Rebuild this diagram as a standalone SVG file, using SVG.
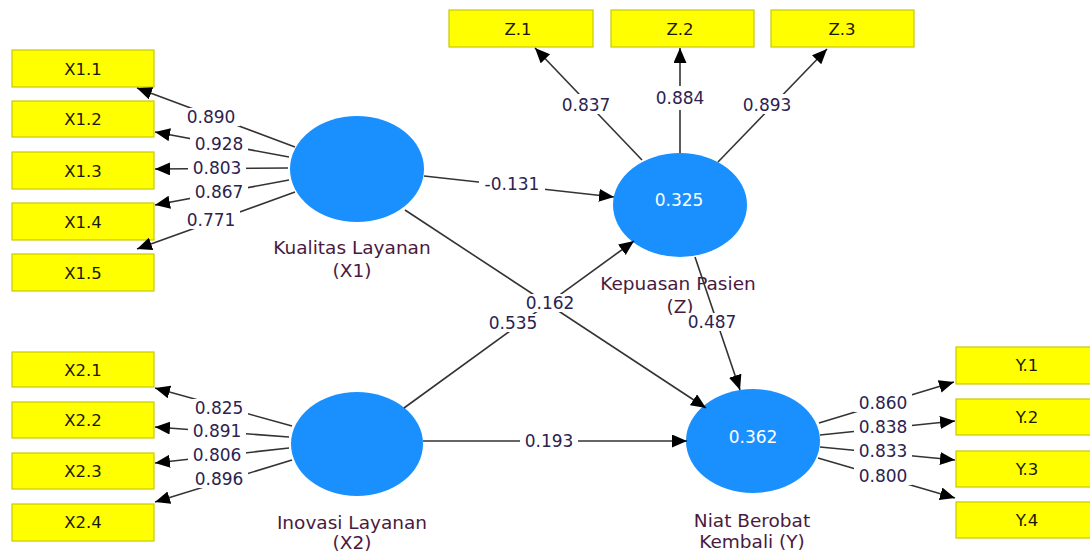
<svg xmlns="http://www.w3.org/2000/svg" width="1090" height="553" viewBox="0 0 1090 553">
<style>
.box{fill:#ffff00;stroke:#c9c900;stroke-width:1.2}
.bt{font-family:"DejaVu Sans",sans-serif;font-size:16.5px;fill:#1a1a00;text-anchor:middle}
.lv{fill:#1a90ff}
.lvt{font-family:"DejaVu Sans",sans-serif;font-size:17px;fill:#ffffff;text-anchor:middle}
.nm{font-family:"DejaVu Sans",sans-serif;font-size:18.5px;fill:#4a1a3e;text-anchor:middle}
.ln{stroke:#333333;stroke-width:1.6;fill:none;marker-end:url(#ah)}
.lb{fill:#ffffff}
.lt{font-family:"DejaVu Sans",sans-serif;font-size:17px;fill:#2b2350;text-anchor:middle}
</style>
<defs>
<marker id="ah" markerUnits="userSpaceOnUse" markerWidth="16" markerHeight="14" refX="15" refY="6.5" orient="auto">
<path d="M0,0 L15,6.5 L0,13 Z" fill="#000000"/>
</marker>
</defs>
<rect width="1090" height="553" fill="#ffffff"/>

<!-- indicator boxes -->
<g id="X1.1"><rect class="box" x="12" y="50" width="142" height="37"/><text class="bt" x="83" y="75">X1.1</text></g>
<g id="X1.2"><rect class="box" x="12" y="101" width="142" height="36"/><text class="bt" x="83" y="125">X1.2</text></g>
<g id="X1.3"><rect class="box" x="12" y="152" width="142" height="37"/><text class="bt" x="83" y="177">X1.3</text></g>
<g id="X1.4"><rect class="box" x="12" y="203" width="142" height="37"/><text class="bt" x="83" y="228">X1.4</text></g>
<g id="X1.5"><rect class="box" x="12" y="254" width="142" height="37"/><text class="bt" x="83" y="279">X1.5</text></g>

<g id="X2.1"><rect class="box" x="12" y="352" width="142" height="35"/><text class="bt" x="83" y="376">X2.1</text></g>
<g id="X2.2"><rect class="box" x="12" y="402" width="142" height="36"/><text class="bt" x="83" y="426">X2.2</text></g>
<g id="X2.3"><rect class="box" x="12" y="453" width="142" height="36"/><text class="bt" x="83" y="477">X2.3</text></g>
<g id="X2.4"><rect class="box" x="12" y="504" width="142" height="37"/><text class="bt" x="83" y="528">X2.4</text></g>

<g id="Z.1"><rect class="box" x="449" y="10" width="144" height="37"/><text class="bt" x="518" y="35">Z.1</text></g>
<g id="Z.2"><rect class="box" x="611" y="10" width="143" height="37"/><text class="bt" x="680" y="35">Z.2</text></g>
<g id="Z.3"><rect class="box" x="771" y="10" width="143" height="37"/><text class="bt" x="842" y="35">Z.3</text></g>

<g id="Y.1"><rect class="box" x="956" y="347" width="142" height="37"/><text class="bt" x="1027" y="371">Y.1</text></g>
<g id="Y.2"><rect class="box" x="956" y="399" width="142" height="36"/><text class="bt" x="1027" y="423">Y.2</text></g>
<g id="Y.3"><rect class="box" x="956" y="451" width="142" height="36"/><text class="bt" x="1027" y="475">Y.3</text></g>
<g id="Y.4"><rect class="box" x="956" y="502" width="142" height="36"/><text class="bt" x="1027" y="526">Y.4</text></g>

<!-- latent variables -->
<g id="X1"><ellipse class="lv" cx="357" cy="169" rx="67" ry="53"/><text class="nm" x="352" y="254">Kualitas Layanan</text><text class="nm" x="352" y="277">(X1)</text></g>
<g id="X2"><ellipse class="lv" cx="357" cy="444" rx="66" ry="52"/><text class="nm" x="352" y="529">Inovasi Layanan</text><text class="nm" x="352" y="549">(X2)</text></g>
<g id="Z"><ellipse class="lv" cx="680" cy="205" rx="67" ry="52"/><text class="lvt" x="679" y="206">0.325</text><text class="nm" x="678" y="290">Kepuasan Pasien</text><text class="nm" x="680" y="313">(Z)</text></g>
<g id="Y"><ellipse class="lv" cx="753" cy="441" rx="67" ry="52"/><text class="lvt" x="753" y="443">0.362</text><text class="nm" x="752" y="527">Niat Berobat</text><text class="nm" x="752" y="548">Kembali (Y)</text></g>

<!-- connectors -->
<g id="connectors">
<line class="ln" x1="295" y1="147" x2="137" y2="88"/>
<line class="ln" x1="289" y1="157" x2="155" y2="132"/>
<line class="ln" x1="288" y1="168" x2="155" y2="169"/>
<line class="ln" x1="289" y1="180" x2="155" y2="205"/>
<line class="ln" x1="295" y1="192" x2="137" y2="249"/>

<line class="ln" x1="292" y1="426" x2="155" y2="388"/>
<line class="ln" x1="289" y1="437" x2="155" y2="427"/>
<line class="ln" x1="289" y1="448" x2="155" y2="463"/>
<line class="ln" x1="292" y1="460" x2="155" y2="502"/>

<line class="ln" x1="642" y1="160" x2="535" y2="48"/>
<line class="ln" x1="680" y1="153" x2="680" y2="48"/>
<line class="ln" x1="718" y1="162" x2="827" y2="49"/>

<line class="ln" x1="819" y1="423" x2="954" y2="382"/>
<line class="ln" x1="820" y1="435" x2="955" y2="421"/>
<line class="ln" x1="820" y1="447" x2="955" y2="460"/>
<line class="ln" x1="818" y1="458" x2="955" y2="498"/>

<line class="ln" x1="424" y1="176" x2="614" y2="197"/>
<line class="ln" x1="405" y1="210" x2="706" y2="408"/>
<line class="ln" x1="404" y1="408" x2="634" y2="241"/>
<line class="ln" x1="423" y1="441" x2="687" y2="441"/>
<line class="ln" x1="695" y1="257" x2="740" y2="390"/>

<rect class="lb" x="182" y="108" width="58" height="18"/><text class="lt" x="211" y="123">0.890</text>
<rect class="lb" x="190" y="135" width="58" height="18"/><text class="lt" x="219" y="150">0.928</text>
<rect class="lb" x="188" y="159" width="58" height="18"/><text class="lt" x="217" y="174">0.803</text>
<rect class="lb" x="190" y="183" width="58" height="18"/><text class="lt" x="219" y="198">0.867</text>
<rect class="lb" x="182" y="211" width="58" height="18"/><text class="lt" x="211" y="226">0.771</text>

<rect class="lb" x="190" y="399" width="58" height="18"/><text class="lt" x="219" y="414">0.825</text>
<rect class="lb" x="188" y="422" width="58" height="18"/><text class="lt" x="217" y="437">0.891</text>
<rect class="lb" x="188" y="446" width="58" height="18"/><text class="lt" x="217" y="461">0.806</text>
<rect class="lb" x="190" y="470" width="58" height="18"/><text class="lt" x="219" y="485">0.896</text>

<rect class="lb" x="557" y="94" width="58" height="20"/><text class="lt" x="586" y="111">0.837</text>
<rect class="lb" x="651" y="86" width="58" height="24"/><text class="lt" x="680" y="104">0.884</text>
<rect class="lb" x="738" y="94" width="58" height="20"/><text class="lt" x="767" y="111">0.893</text>

<rect class="lb" x="854" y="394" width="58" height="18"/><text class="lt" x="883" y="409">0.860</text>
<rect class="lb" x="854" y="418" width="58" height="18"/><text class="lt" x="883" y="433">0.838</text>
<rect class="lb" x="854" y="442" width="58" height="18"/><text class="lt" x="883" y="457">0.833</text>
<rect class="lb" x="854" y="467" width="58" height="18"/><text class="lt" x="883" y="482">0.800</text>

<rect class="lb" x="479" y="175" width="66" height="18"/><text class="lt" x="512" y="190">-0.131</text>
<rect class="lb" x="521" y="294" width="58" height="18"/><text class="lt" x="550" y="309">0.162</text>
<rect class="lb" x="484" y="314" width="58" height="18"/><text class="lt" x="513" y="329">0.535</text>
<rect class="lb" x="520" y="432" width="58" height="18"/><text class="lt" x="549" y="447">0.193</text>
<rect class="lb" x="683" y="313" width="58" height="18"/><text class="lt" x="712" y="328">0.487</text>
</g>
</svg>
